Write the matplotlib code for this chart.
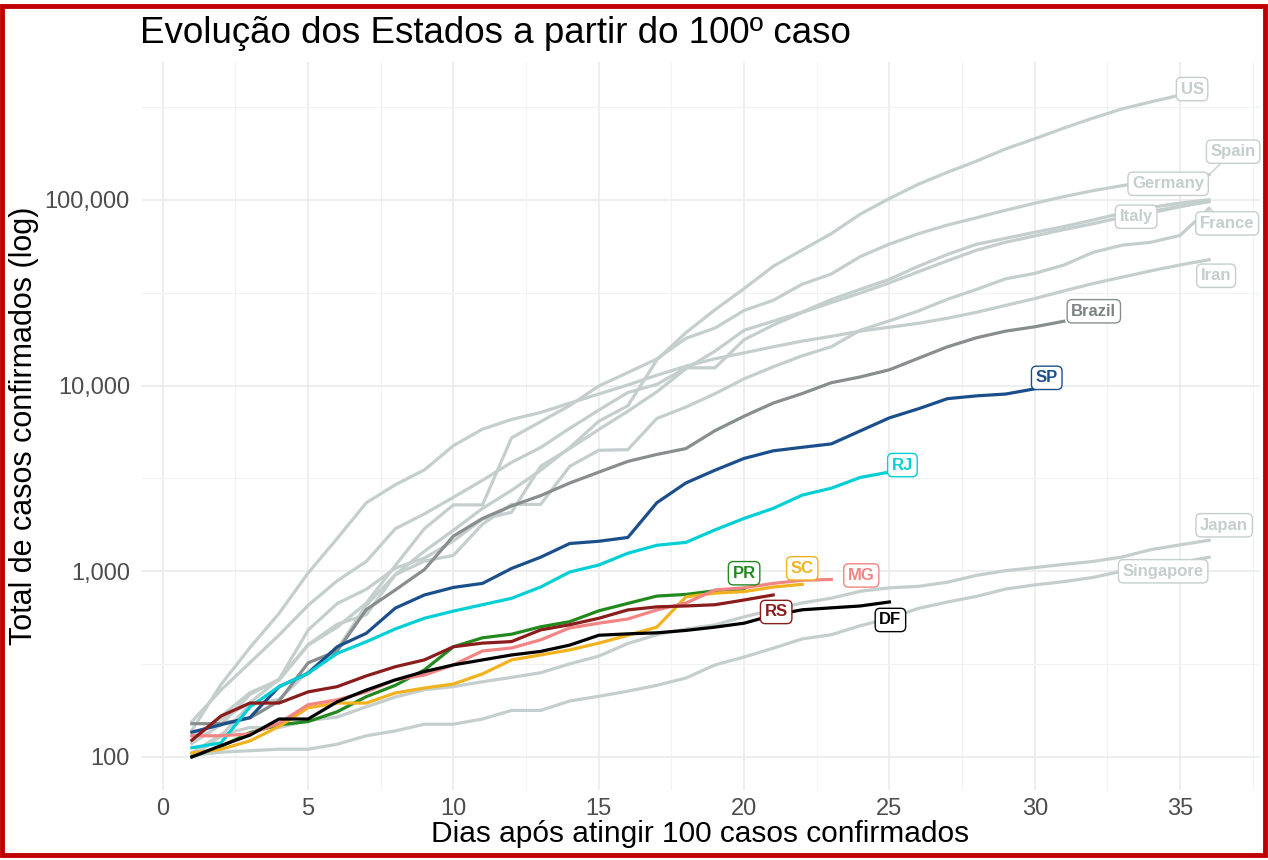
import matplotlib
matplotlib.use("Agg")
import matplotlib.pyplot as plt
import numpy as np
from matplotlib.patches import Rectangle
from matplotlib.ticker import FixedLocator, FuncFormatter

plt.rcParams['font.family'] = ['Liberation Sans', 'DejaVu Sans']

# casos confirmados a partir do dia 1 (primeiro dia com >= 100 casos)
us = [118, 149, 217, 262, 402, 518, 583, 959, 1281, 1663, 2179, 2726, 3499, 4632,
      6421, 7783, 13747, 19273, 25600, 33276, 43847, 53740, 65778, 83836, 101657,
      121478, 140886, 161807, 188172, 213372, 243453, 275586, 308850, 337072, 366667]
spain = [120, 165, 222, 259, 400, 500, 673, 1073, 1695, 2277, 2277, 5232, 6391, 7798,
         9942, 11748, 13910, 17963, 20410, 25374, 28768, 35136, 39885, 49515, 57786,
         65719, 73235, 80110, 87956, 95923, 104118, 112065, 119199, 126168, 131646, 136675]
germany = [130, 159, 196, 262, 482, 670, 799, 1040, 1176, 1457, 1908, 2078, 3675, 4585,
           5795, 7272, 9257, 12327, 15320, 19848, 22213, 24873, 29056, 32986, 37323,
           43938, 50871, 57695, 62095, 66885, 71808, 77872, 84794, 91159, 96092, 100123]
italy = [155, 229, 322, 453, 655, 888, 1128, 1694, 2036, 2502, 3089, 3858, 4636, 5883,
         7375, 9172, 10149, 12462, 12462, 17660, 21157, 24747, 27980, 31506, 35713,
         41035, 47021, 53578, 59138, 63927, 69176, 74386, 80589, 86498, 92472, 97689]
france = [100, 130, 191, 204, 288, 380, 656, 957, 1134, 1217, 1792, 2290, 2290, 3672,
          4480, 4513, 6650, 7660, 9043, 10871, 12612, 14459, 16176, 19856, 22304, 25233,
          29155, 32964, 37575, 40174, 44550, 52128, 56989, 59105, 64338, 89953]
iran = [139, 245, 388, 593, 978, 1501, 2336, 2922, 3513, 4747, 5823, 6566, 7161, 8042,
        9000, 10075, 11364, 12729, 13938, 14991, 16169, 17361, 18407, 19644, 20610,
        21638, 23049, 24811, 27017, 29406, 32332, 35408, 38309, 41495, 44605, 47593]
japan = [105, 132, 144, 144, 157, 164, 186, 210, 230, 239, 254, 268, 284, 317, 349, 408,
         455, 488, 514, 568, 620, 675, 716, 780, 814, 829, 873, 950, 1007, 1046, 1089,
         1128, 1193, 1307, 1387, 1468]
singapore = [102, 106, 108, 110, 110, 117, 130, 138, 150, 150, 160, 178, 178, 200, 212,
             226, 243, 266, 313, 345, 385, 432, 455, 509, 558, 631, 683, 732, 802, 844,
             879, 926, 1000, 1049, 1114, 1189]
brazil = [151, 151, 162, 200, 321, 372, 621, 793, 1021, 1546, 1924, 2247, 2554, 2985,
          3417, 3904, 4256, 4579, 5717, 6836, 8044, 9056, 10360, 11130, 12161, 14034,
          16170, 18092, 19638, 20727, 22192]
sp = [136, 149, 163, 239, 282, 392, 463, 633, 745, 818, 860, 1035, 1190, 1410, 1450,
      1520, 2340, 2990, 3500, 4050, 4450, 4650, 4850, 5700, 6700, 7500, 8500, 8800,
      9000, 9600]
rj = [112, 119, 186, 239, 282, 361, 417, 489, 558, 610, 660, 715, 822, 990, 1080, 1250,
      1380, 1430, 1670, 1925, 2180, 2570, 2800, 3200, 3420]
pr = [100, 114, 135, 149, 155, 175, 211, 243, 294, 392, 438, 458, 502, 535, 612, 671,
      735, 750, 785, 800]
sc = [105, 110, 122, 146, 184, 195, 195, 221, 235, 247, 280, 333, 354, 377, 410, 452,
      500, 728, 762, 777, 822, 850]
mg = [130, 130, 133, 152, 191, 203, 224, 260, 276, 313, 372, 386, 427, 495, 525, 553,
      619, 674, 793, 814, 860, 894, 903]
rs = [123, 166, 195, 195, 224, 239, 273, 306, 333, 392, 410, 418, 483, 515, 558, 619,
      643, 650, 660, 700, 745]
df = [100, 115, 131, 160, 160, 198, 229, 260, 288, 313, 333, 354, 370, 400, 452, 460,
      466, 480, 500, 525, 580, 620, 635, 650, 683]

GREY = '#c4cecd'
# nome, dados, cor da linha, cor do texto, deslocamento do rotulo (px), segmento
series = [
    ('US', us, GREY, GREY, (12, 6), False),
    ('Spain', spain, GREY, GREY, (24, 23), True),
    ('Germany', germany, GREY, GREY, (-41, 16), False),
    ('Italy', italy, GREY, GREY, (-73, -15), True),
    ('France', france, GREY, GREY, (18, -15), True),
    ('Iran', iran, GREY, GREY, (7, -16), False),
    ('Japan', japan, GREY, GREY, (15, 15), False),
    ('Singapore', singapore, GREY, GREY, (-46, -14), False),
    ('Brazil', brazil, '#888d8d', '#7d8282', (30, 10), False),
    ('SP', sp, '#1b4f8c', '#1b4f8c', (12, 11), False),
    ('RJ', rj, '#00cfd5', '#00cfd5', (13, 7), False),
    ('PR', pr, '#22891f', '#22891f', (0, 16), False),
    ('SC', sc, '#f0b21f', '#f0b21f', (0, 16), False),
    ('MG', mg, '#f28484', '#f28484', (30, 4), False),
    ('RS', rs, '#8b1c1c', '#8b1c1c', (3, -17), False),
    ('DF', df, '#000000', '#000000', (1, -18), False),
]

fig = plt.figure(figsize=(12.68, 8.6), dpi=100)
ax = fig.add_axes([141 / 1268, 70 / 860, 1119 / 1268, 728 / 860])

for name, vals, col, tcol, off, seg in series:
    x = np.arange(1, len(vals) + 1)
    ax.plot(x, vals, color=col, lw=2.3, solid_joinstyle='round', zorder=3)

for name, vals, col, tcol, off, seg in series:
    ap = None
    if seg:
        ap = dict(arrowstyle='-', color=col, lw=1.0, shrinkA=0, shrinkB=0)
    ax.annotate(name, xy=(len(vals), vals[-1]), xytext=off, textcoords='offset pixels',
                ha='center', va='center', fontsize=12, fontweight='bold', color=tcol,
                bbox=dict(boxstyle='round,pad=0.25,rounding_size=0.3', fc='white',
                          ec=col, lw=1.0),
                arrowprops=ap, zorder=5)

ax.set_yscale('log')
allv = np.concatenate([np.array(s[1], dtype=float) for s in series])
lo, hi = np.log10(allv.min()), np.log10(allv.max())
pad = 0.05 * (hi - lo)
ax.set_ylim(10 ** (lo - pad), 10 ** (hi + pad))
ax.set_xlim(1 - 0.05 * 35, 36 + 0.05 * 35)

ax.set_xticks([0, 5, 10, 15, 20, 25, 30, 35])
ax.set_xticks(np.arange(2.5, 40, 5), minor=True)
ax.yaxis.set_major_locator(FixedLocator([100, 1000, 10000, 100000]))
ax.yaxis.set_minor_locator(FixedLocator([10 ** 2.5, 10 ** 3.5, 10 ** 4.5, 10 ** 5.5]))
ax.yaxis.set_major_formatter(FuncFormatter(lambda v, p: f'{int(round(v)):,}'))
ax.yaxis.set_minor_formatter(FuncFormatter(lambda v, p: ''))

ax.grid(which='major', color='#ebebeb', lw=1.2, zorder=0)
ax.grid(which='minor', color='#f2f2f2', lw=0.8, zorder=0)
ax.set_axisbelow(True)
for s in ax.spines.values():
    s.set_visible(False)
ax.tick_params(which='both', length=0)
ax.tick_params(axis='y', labelsize=17, labelcolor='#4d4d4d', pad=8)
ax.tick_params(axis='x', labelsize=17, labelcolor='#4d4d4d', pad=6)

ax.set_xlabel('Dias após atingir 100 casos confirmados', fontsize=21.5, labelpad=0)
ax.set_ylabel('Total de casos confirmados (log)', fontsize=22, labelpad=4)
fig.text(140 / 1268, 1 - 43 / 860, 'Evolução dos Estados a partir do 100º caso',
         fontsize=26.5, ha='left', va='baseline')

fig.patches.append(Rectangle((0.0016, 0.006), 0.9962, 0.9865, transform=fig.transFigure,
                             fill=False, edgecolor='#c00000', lw=3.5, zorder=10))

fig.savefig('out.png', dpi=100, facecolor='white')
